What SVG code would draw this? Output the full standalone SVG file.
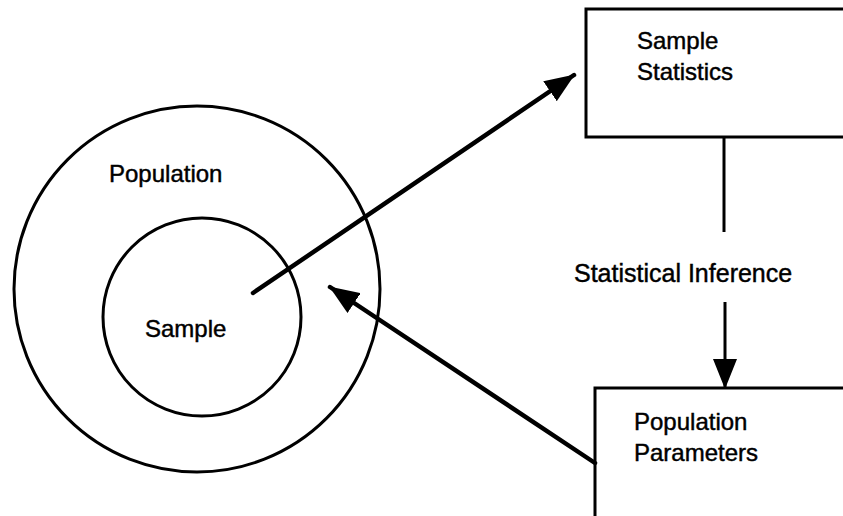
<svg xmlns="http://www.w3.org/2000/svg" width="843" height="516" viewBox="0 0 843 516">
<style>
.ln{fill:none;stroke:#000;stroke-width:3}
.box{fill:#fff;stroke:#000;stroke-width:3}
.arr{fill:none;stroke:#000;stroke-width:4.5;stroke-linecap:round}
.t{font-family:"Liberation Sans",Arial,sans-serif;font-size:24px;fill:#000;stroke:#000;stroke-width:0.45}
</style>
<defs>
<marker id="ah" markerUnits="userSpaceOnUse" viewBox="0 0 30 24" refX="29" refY="12" markerWidth="30" markerHeight="24" orient="auto">
<path d="M0,0 L30,12 L0,24 z" fill="#000"/>
</marker>
</defs>
<rect width="843" height="516" fill="#fff"/>
<g id="population">
<circle class="ln" cx="197" cy="289" r="183"/>
<text class="t" x="109" y="182">Population</text>
</g>
<g id="sample">
<circle class="ln" cx="202" cy="317" r="99"/>
<text class="t" x="145" y="337">Sample</text>
</g>
<g id="sample-statistics">
<rect class="box" x="586" y="9" width="280" height="128"/>
<text class="t" x="637" y="49">Sample</text>
<text class="t" x="637" y="80">Statistics</text>
</g>
<g id="population-parameters">
<rect class="box" x="595" y="388" width="280" height="160"/>
<text class="t" x="634" y="430">Population</text>
<text class="t" x="634" y="461">Parameters</text>
</g>
<g id="connectors">
<line class="arr" x1="253" y1="293" x2="574" y2="75" marker-end="url(#ah)"/>
<line class="arr" x1="595" y1="463" x2="330" y2="287" marker-end="url(#ah)"/>
<line class="ln" x1="724" y1="137" x2="724" y2="232"/>
<line class="ln" x1="725" y1="302" x2="725" y2="388" marker-end="url(#ah)" style="stroke-linecap:butt"/>
<text class="t" x="574" y="282" style="font-size:25px">Statistical Inference</text>
</g>
</svg>
